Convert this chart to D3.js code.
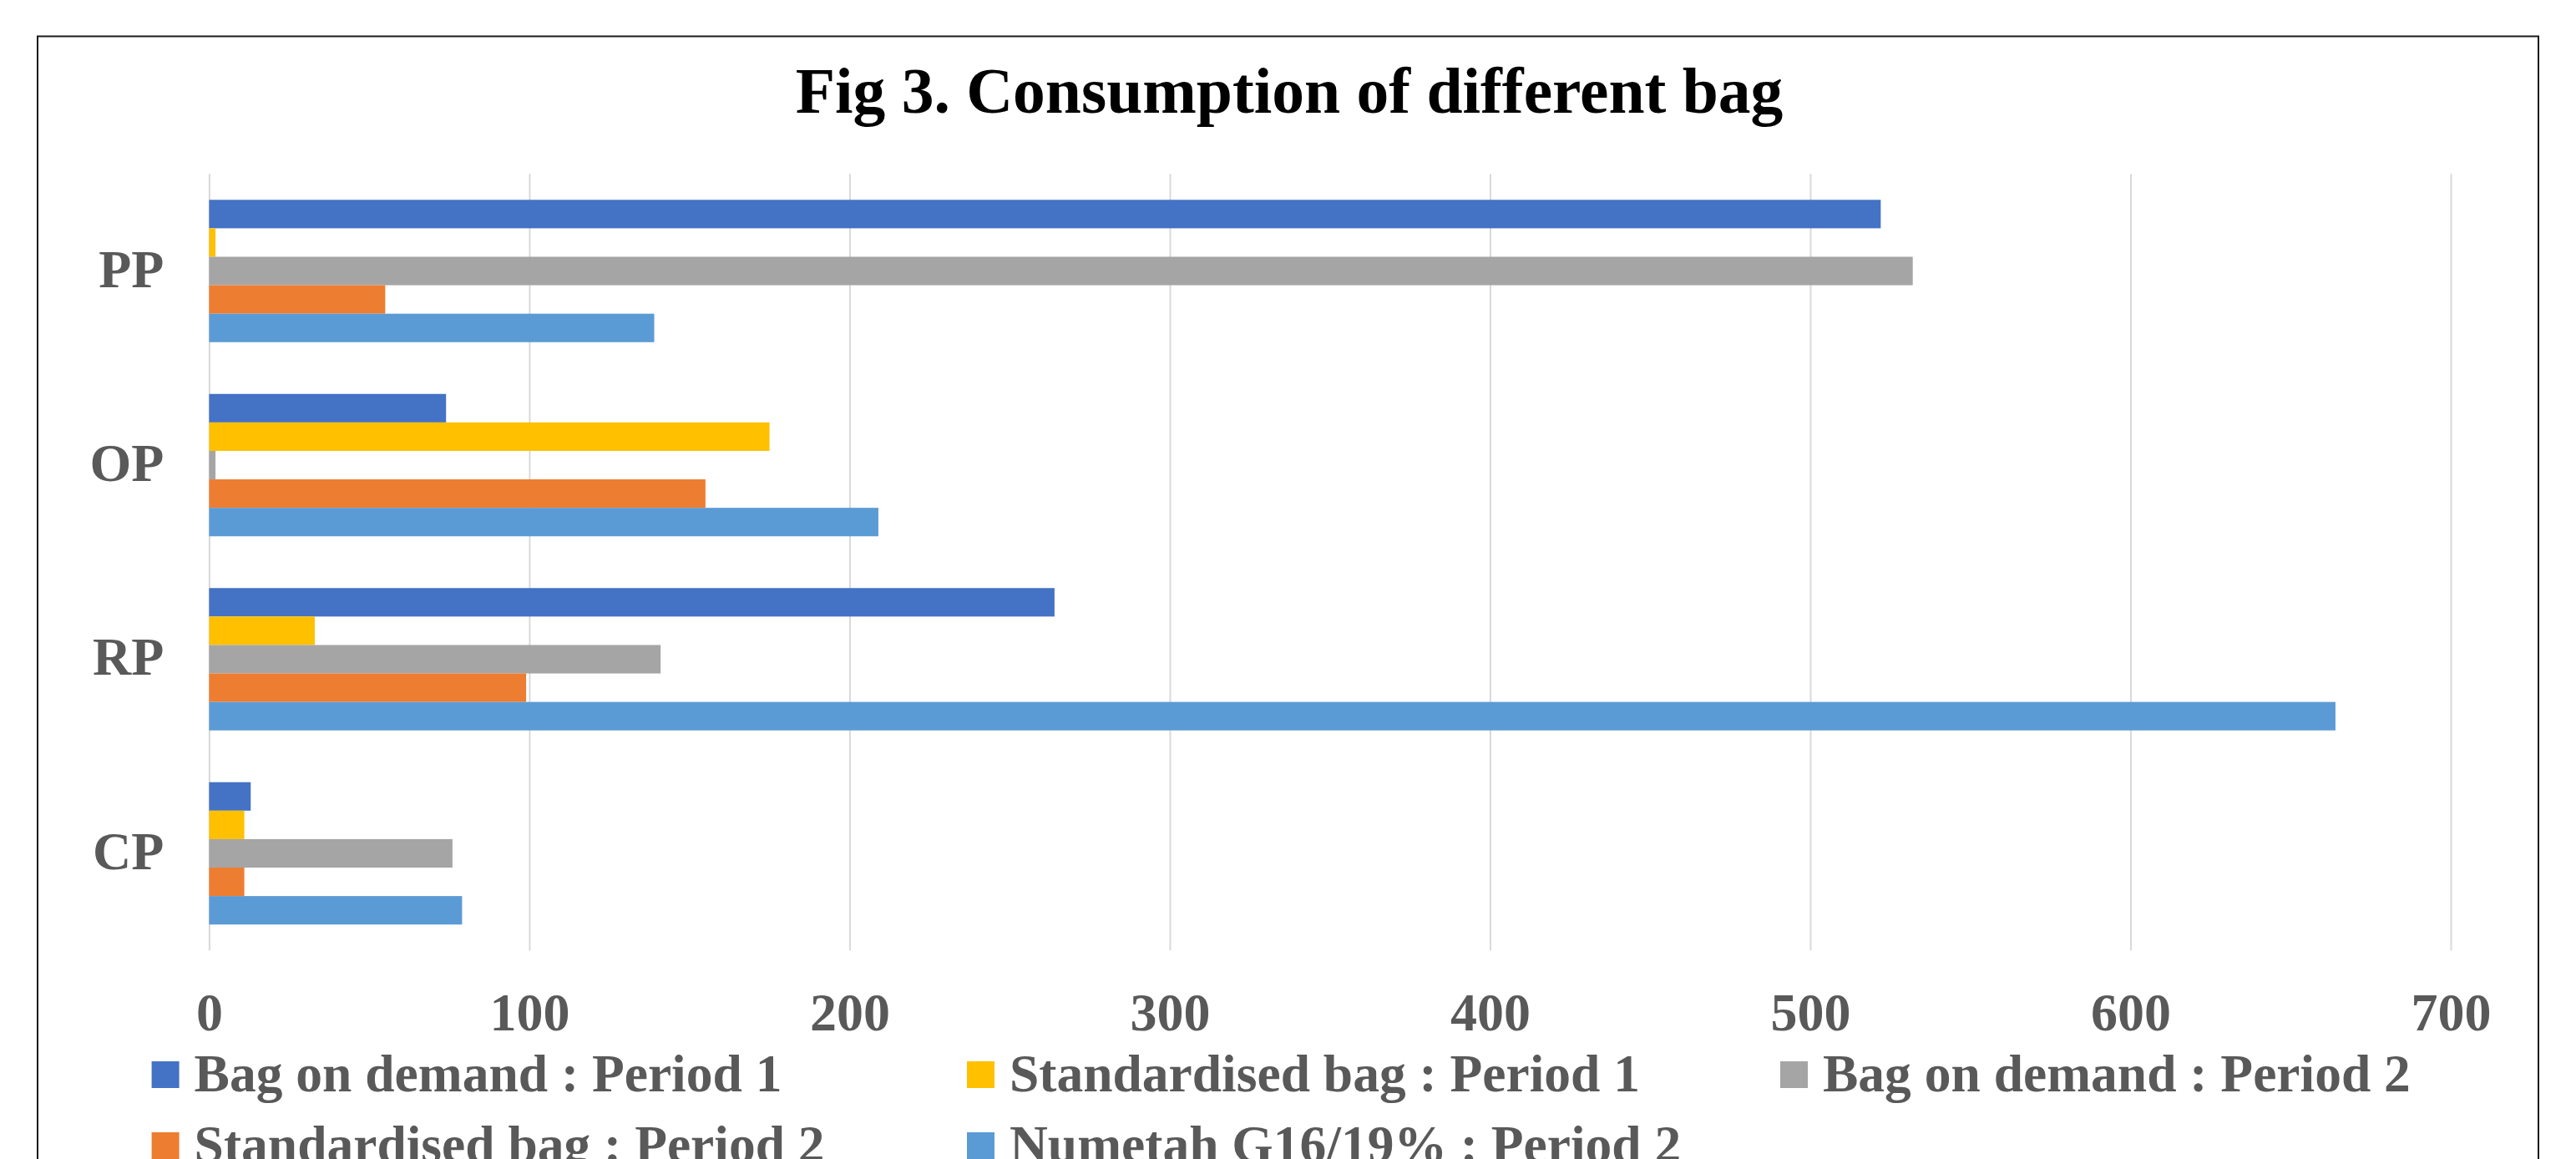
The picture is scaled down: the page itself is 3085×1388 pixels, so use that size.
<!DOCTYPE html>
<html>
<head>
<meta charset="utf-8">
<script src="https://cdn.jsdelivr.net/npm/d3@7"></script>
<style>
  html, body { margin: 0; padding: 0; background: #ffffff; }
  svg { display: block; }
</style>
</head>
<body>
<svg id="chart" width="3085" height="1388"></svg>
<script>
// Categories (top to bottom) and the five series, one value per category
const categories = ["PP", "OP", "RP", "CP"];
const seriesNames = [
  "Bag on demand : Period 1",
  "Standardised bag : Period 1",
  "Bag on demand : Period 2",
  "Standardised bag : Period 2",
  "Numetah G16/19% : Period 2"
];
const bagOnDemandP1   = [522, 74, 264, 13];
const standardisedP1  = [2, 175, 33, 11];
const bagOnDemandP2   = [532, 2, 141, 76];
const standardisedP2  = [55, 155, 99, 11];
const numetahP2       = [139, 209, 664, 79];
const seriesColors = ["#4472C4", "#FFC000", "#A5A5A5", "#ED7D31", "#5B9BD5"];
const xTicks = [0, 100, 200, 300, 400, 500, 600, 700];

const seriesValues = [bagOnDemandP1, standardisedP1, bagOnDemandP2, standardisedP2, numetahP2];
const rows = categories.map((c, i) => ({
  category: c,
  values: seriesNames.map((s, k) => ({ series: s, value: seriesValues[k][i], color: seriesColors[k] }))
}));

const svg = d3.select("#chart");
const FONT = "'Liberation Serif', 'Times New Roman', serif";
const TEXT_GRAY = "#595959";

// Chart frame
svg.append("rect")
  .attr("x", 45).attr("y", 43.5)
  .attr("width", 2995).attr("height", 1400)
  .attr("fill", "#ffffff")
  .attr("stroke", "#1a1a1a")
  .attr("stroke-width", 2);

// Title
svg.append("text")
  .attr("x", 1544).attr("y", 135)
  .attr("text-anchor", "middle")
  .attr("font-family", FONT)
  .attr("font-weight", "bold")
  .attr("font-size", 77.5)
  .attr("fill", "#000000")
  .text("Fig 3. Consumption of different bag");

// Plot area
const plot = { left: 250.4, right: 2935, top: 208.3, bottom: 1138.2 };

const x = d3.scaleLinear().domain([0, 700]).range([plot.left, plot.right]);
const y = d3.scaleBand()
  .domain(categories)
  .range([plot.top, plot.bottom])
  .paddingInner(0.2667)
  .paddingOuter(0.13335);
const ySub = d3.scaleBand().domain(seriesNames).range([0, y.bandwidth()]).padding(0);

// Vertical gridlines + value labels via the bottom axis
const xAxis = d3.axisBottom(x)
  .tickValues(xTicks)
  .tickSize(-(plot.bottom - plot.top))
  .tickFormat(d3.format("d"));

const gx = svg.append("g")
  .attr("transform", `translate(0,${plot.bottom})`)
  .call(xAxis);
gx.select(".domain").remove();
gx.selectAll(".tick line").attr("stroke", "#D9D9D9").attr("stroke-width", 2);
gx.selectAll(".tick text")
  .attr("y", 96).attr("dy", null)
  .attr("font-family", FONT)
  .attr("font-weight", "bold")
  .attr("font-size", 64)
  .attr("fill", TEXT_GRAY);

// Bars
const groups = svg.append("g").selectAll("g")
  .data(rows)
  .join("g")
  .attr("transform", d => `translate(0,${y(d.category)})`);

groups.selectAll("rect")
  .data(d => d.values)
  .join("rect")
  .attr("x", x(0))
  .attr("y", d => ySub(d.series))
  .attr("width", d => x(d.value) - x(0))
  .attr("height", ySub.bandwidth())
  .attr("fill", d => d.color);

// Category axis
const yAxis = d3.axisLeft(y).tickSize(0);
const gy = svg.append("g")
  .attr("transform", `translate(${plot.left},0)`)
  .call(yAxis);
gy.select(".domain").remove();
gy.selectAll(".tick text")
  .attr("x", -54).attr("dy", 19)
  .attr("font-family", FONT)
  .attr("font-weight", "bold")
  .attr("font-size", 64)
  .attr("fill", TEXT_GRAY);

// Legend (three columns, two rows)
const legendCols = [181.6, 1158, 2132];
const legendRowTop = 1271, legendRowStep = 85;
const legend = svg.append("g").selectAll("g")
  .data(seriesNames.map((s, k) => ({ name: s, color: seriesColors[k], k })))
  .join("g")
  .attr("transform", d => `translate(${legendCols[d.k % 3]},${legendRowTop + Math.floor(d.k / 3) * legendRowStep})`);

legend.append("rect")
  .attr("width", 33).attr("height", 32)
  .attr("fill", d => d.color);

legend.append("text")
  .attr("x", 51).attr("y", 36)
  .attr("font-family", FONT)
  .attr("font-weight", "bold")
  .attr("font-size", 63.5)
  .attr("fill", TEXT_GRAY)
  .text(d => d.name);
</script>
</body>
</html>
